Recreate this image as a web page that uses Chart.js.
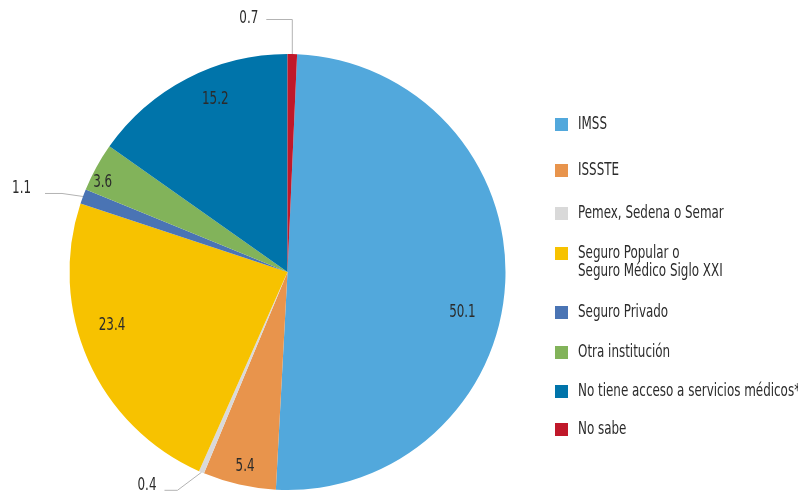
<!DOCTYPE html>
<html>
<head>
<meta charset="utf-8">
<script src="https://cdn.jsdelivr.net/npm/chart.js"></script>
<style>
  html, body { margin: 0; padding: 0; background: #fff; }
  #wrap { width: 798px; height: 493px; position: relative; }
</style>
</head>
<body>
<div id="wrap"><canvas id="chart"></canvas></div>
<script>
// Chart data
const categories = [
  'IMSS',
  'ISSSTE',
  'Pemex, Sedena o Semar',
  ['Seguro Popular o', 'Seguro Médico Siglo XXI'],
  'Seguro Privado',
  'Otra institución',
  'No tiene acceso a servicios médicos*',
  'No sabe'
];
const values = [50.1, 5.4, 0.4, 23.4, 1.1, 3.6, 15.2, 0.7];
const valueLabels = ['50.1', '5.4', '0.4', '23.4', '1.1', '3.6', '15.2', '0.7'];
const colors = ['#52a8dc', '#e8944c', '#d9d9d9', '#f7c200', '#4a74b4', '#82b35a', '#0074aa', '#c0182a'];

const FONT = '"DejaVu Sans Condensed", "Liberation Sans Narrow", sans-serif';
const SQUEEZE = 0.78; // reference uses a very narrow typeface
const TEXT_COLOR = '#2b2b2b';
const total = values.reduce((a, b) => a + b, 0);

// draw text squeezed horizontally
function narrowText(ctx, text, x, y, align) {
  ctx.save();
  ctx.translate(x, y);
  ctx.scale(SQUEEZE, 1);
  ctx.textAlign = align;
  ctx.fillText(text, 0, 0);
  ctx.restore();
}

// small nudges so labels sit where the original placed them
const labelNudge = { 0: [-8, 32], 1: [2, -1], 3: [-8, -21], 5: [-9, 7], 6: [12, -10] };

// slice labels: inside for big ones, leader lines for the tiny ones
const sliceLabels = {
  id: 'sliceLabels',
  afterDatasetsDraw(chart) {
    const ctx = chart.ctx;
    const arcs = chart.getDatasetMeta(0).data;
    ctx.save();
    ctx.font = '17px ' + FONT;
    ctx.fillStyle = TEXT_COLOR;
    ctx.textBaseline = 'middle';

    arcs.forEach((arc, i) => {
      const mid = (arc.startAngle + arc.endAngle) / 2;
      const cx = arc.x, cy = arc.y, r = arc.outerRadius;
      const v = values[i];
      if (v >= 3) {
        const f = v < 10 ? 0.92 : 0.84;
        const n = labelNudge[i] || [0, 0];
        narrowText(ctx, valueLabels[i], cx + Math.cos(mid) * r * f + n[0], cy + Math.sin(mid) * r * f + n[1], 'center');
        return;
      }
      // small slice: leader line
      const ex = cx + Math.cos(mid) * r;
      const ey = cy + Math.sin(mid) * r;
      ctx.strokeStyle = '#b3b3b3';
      ctx.lineWidth = 1;
      ctx.beginPath();
      ctx.moveTo(ex, ey);
      let tx, ty;
      if (ey < cy - r * 0.9) {
        // top: straight up then left
        ctx.lineTo(ex, 19.5);
        ctx.lineTo(ex - 26, 19.5);
        tx = ex - 34; ty = 19;
      } else if (ey > cy + r * 0.8) {
        // bottom: down-left then left
        ctx.lineTo(ex - 24, ey + 18);
        ctx.lineTo(ex - 37, ey + 18);
        tx = ex - 45; ty = ey + 13;
      } else {
        // left side
        ctx.lineTo(ex - 21, ey - 3);
        ctx.lineTo(ex - 38, ey - 3);
        tx = ex - 52; ty = ey - 8;
      }
      ctx.stroke();
      narrowText(ctx, valueLabels[i], tx, ty, 'right');
    });
    ctx.restore();
  }
};

// legend drawn by hand on the right
const sideLegend = {
  id: 'sideLegend',
  afterDraw(chart) {
    const ctx = chart.ctx;
    const rows = [124, 170, 213, 253, 312, 352, 391, 429];
    ctx.save();
    ctx.font = '17px ' + FONT;
    ctx.textBaseline = 'middle';
    categories.forEach((label, i) => {
      const y = rows[i];
      ctx.fillStyle = colors[i];
      ctx.fillRect(555, y - 6, 13, 13);
      ctx.fillStyle = TEXT_COLOR;
      const lines = Array.isArray(label) ? label : [label];
      lines.forEach((ln, j) => narrowText(ctx, ln, 578, y + 1 + j * 18, 'left'));
    });
    ctx.restore();
  }
};

new Chart(document.getElementById('chart'), {
  type: 'pie',
  data: {
    labels: categories,
    datasets: [{
      data: values,
      backgroundColor: colors,
      borderWidth: 0
    }]
  },
  options: {
    responsive: true,
    maintainAspectRatio: false,
    animation: false,
    // start IMSS just after the thin "No sabe" slice at 12 o'clock
    rotation: values[7] / total * 360,
    layout: { padding: { left: 69, right: 292, top: 54, bottom: 3 } },
    plugins: {
      legend: { display: false },
      tooltip: { enabled: false }
    }
  },
  plugins: [sliceLabels, sideLegend]
});
</script>
</body>
</html>
